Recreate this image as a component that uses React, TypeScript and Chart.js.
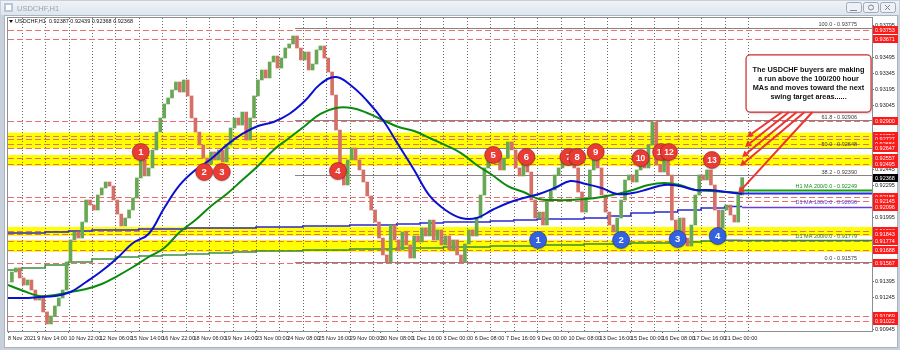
import React, { useEffect, useRef } from "react";
import { Chart, registerables } from "chart.js";

Chart.register(...registerables);

// ---------------- data ----------------
const SYMBOL = "USDCHF,H1";
const QUOTE = "0.92387 0.92439 0.92368 0.92368";

// closes sampled every 4 hourly bars (bar index = 4 * i)
const closes: number[] = [
  0.91388, 0.91482, 0.9152, 0.91426, 0.9136, 0.91407, 0.91313, 0.91219, 0.91257, 0.91107,
  0.90994, 0.91069, 0.91163, 0.91238, 0.91313, 0.91576, 0.91783, 0.91858, 0.91801, 0.91951,
  0.92158, 0.92111, 0.92064, 0.92205, 0.92271, 0.92327, 0.92289, 0.92158, 0.92026, 0.91914,
  0.91989, 0.92064, 0.92177, 0.92365, 0.92534, 0.92384, 0.92459, 0.92628, 0.92796, 0.92928,
  0.9306, 0.93116, 0.93191, 0.93266, 0.93172, 0.93285, 0.93135, 0.92928, 0.92796, 0.92674,
  0.92552, 0.92496, 0.92609, 0.92534, 0.92628, 0.92515, 0.92674, 0.92834, 0.92928, 0.92862,
  0.92984, 0.92721, 0.92928, 0.93135, 0.93285, 0.93379, 0.93304, 0.93454, 0.9351, 0.93397,
  0.93491, 0.93585, 0.93623, 0.93698, 0.93585, 0.93473, 0.93548, 0.93379, 0.93435, 0.93567,
  0.93604, 0.93491, 0.9336, 0.93144, 0.92815, 0.92487, 0.92299, 0.92534, 0.92646, 0.92534,
  0.9244, 0.92327, 0.92196, 0.92064, 0.91951, 0.91801, 0.91642, 0.91576, 0.91923, 0.91783,
  0.91689, 0.91858, 0.91736, 0.91613, 0.9182, 0.91764, 0.91895, 0.9182, 0.9197, 0.91783,
  0.91877, 0.91736, 0.9182, 0.91689, 0.91783, 0.91642, 0.91576, 0.91745, 0.91877, 0.9182,
  0.91989, 0.92205, 0.92459, 0.92628, 0.92515, 0.92581, 0.9244, 0.92552, 0.92703, 0.92628,
  0.92459, 0.92384, 0.92534, 0.92421, 0.92158, 0.91989, 0.92045, 0.91923, 0.92158, 0.92252,
  0.92393, 0.92459, 0.92581, 0.92487, 0.92628, 0.92459, 0.92233, 0.92045, 0.92177, 0.9244,
  0.92609, 0.92459, 0.92205, 0.92045, 0.91923, 0.91858, 0.91989, 0.92158, 0.92346, 0.92393,
  0.92327, 0.9244, 0.92534, 0.92459, 0.92674, 0.92891, 0.92487, 0.92421, 0.92534, 0.92393,
  0.9197, 0.91858, 0.91989, 0.91801, 0.91726, 0.91923, 0.92205, 0.92393, 0.92346, 0.9244,
  0.92299, 0.92064, 0.91895, 0.92064, 0.92111, 0.92017, 0.91951, 0.92205, 0.92368,
];

// hourly moving averages sampled every 16 bars
const ma100H1: number[] = [
  0.91238, 0.91238, 0.91247, 0.91257, 0.91294, 0.91388, 0.91491, 0.91613, 0.91754, 0.91839,
  0.92083, 0.92299, 0.9244, 0.92543, 0.92674, 0.92778, 0.92853, 0.92891, 0.92966, 0.93088,
  0.93247, 0.93313, 0.93228, 0.93088, 0.92909, 0.92674, 0.9244, 0.92196, 0.92064, 0.91989,
  0.91989, 0.92064, 0.9213, 0.92177, 0.92214, 0.92271, 0.92336, 0.92308, 0.92271, 0.92214,
  0.92224, 0.92261, 0.92299, 0.92289, 0.92252, 0.92252, 0.92233, 0.92214,
];
const ma200H1: number[] = [
  0.9136, 0.91304, 0.91257, 0.91266, 0.91294, 0.91322, 0.91369, 0.91444, 0.91529, 0.91623,
  0.91707, 0.91858, 0.9197, 0.92102, 0.92214, 0.92346, 0.92477, 0.92628, 0.9274, 0.92853,
  0.92966, 0.93022, 0.93022, 0.92975, 0.92909, 0.92843, 0.92806, 0.9274, 0.92674, 0.92599,
  0.92487, 0.92393, 0.92289, 0.92233, 0.92167, 0.92158, 0.92158, 0.92167, 0.92186, 0.92214,
  0.92252, 0.92299, 0.92318, 0.92299, 0.92252, 0.92242, 0.92233, 0.92224,
];

// daily moving averages, one value per day
const d1Ma100: number[] = [
  0.91848, 0.91848, 0.91858, 0.91867, 0.91876, 0.91876, 0.91886, 0.91886, 0.91895, 0.91895,
  0.91895, 0.91904, 0.91904, 0.91914, 0.91914, 0.91923, 0.91923, 0.91933, 0.91942, 0.91951,
  0.91951, 0.91961, 0.9197, 0.9198, 0.9198, 0.91989, 0.92008, 0.92036, 0.92045, 0.92064,
  0.92083, 0.92096,
];
const d1Ma200: number[] = [
  0.91501, 0.9152, 0.91548, 0.91576, 0.91604, 0.91623, 0.91632, 0.91642, 0.91651, 0.9166,
  0.9167, 0.91679, 0.91679, 0.91689, 0.91689, 0.91698, 0.91698, 0.91707, 0.91707, 0.91717,
  0.91717, 0.91726, 0.91726, 0.91736, 0.91736, 0.91745, 0.91745, 0.91754, 0.91754, 0.91764,
  0.91773, 0.91779,
];

const timeLabels = [
  "8 Nov 2021", "9 Nov 14:00", "10 Nov 22:00", "12 Nov 06:00", "15 Nov 14:00", "16 Nov 22:00",
  "18 Nov 06:00", "19 Nov 14:00", "23 Nov 00:00", "24 Nov 08:00", "25 Nov 16:00", "29 Nov 00:00",
  "30 Nov 08:00", "1 Dec 16:00", "3 Dec 00:00", "6 Dec 08:00", "7 Dec 16:00", "9 Dec 00:00",
  "10 Dec 08:00", "13 Dec 16:00", "15 Dec 00:00", "16 Dec 08:00", "17 Dec 16:00", "21 Dec 00:00",
];

const priceTicks = [0.93795, 0.93495, 0.93345, 0.93195, 0.93045, 0.92445, 0.92295, 0.91995, 0.91395, 0.91245, 0.90945];

const redLevels = [
  0.93753, 0.93671, 0.929, 0.92756, 0.92727, 0.92684, 0.92647, 0.92557, 0.92495,
  0.92185, 0.92145, 0.91863, 0.91843, 0.91774, 0.91688, 0.91567, 0.91069, 0.91022,
];
const yellowBands: [number, number][] = [
  [0.9279, 0.9264],
  [0.92581, 0.92477],
  [0.91905, 0.9182],
  [0.91783, 0.9167],
];

const fibNames = ["100.0", "61.8", "50.0", "38.2", "0.0"];
const fibPrices = [0.93775, 0.92906, 0.92648, 0.9239, 0.91575];

const lastPrice = 0.92368;
const h1Ma200Last = 0.92249;
const h1Ma100Last = 0.92222;
const d1Ma100Last = 0.92096;
const d1Ma200Last = 0.91779;

const redMarks = [
  { n: "1", bar: 136, p: 0.92609 },
  { n: "2", bar: 201, p: 0.92421 },
  { n: "3", bar: 219, p: 0.92421 },
  { n: "4", bar: 338, p: 0.9243 },
  { n: "5", bar: 497, p: 0.92581 },
  { n: "6", bar: 531, p: 0.92562 },
  { n: "7", bar: 574, p: 0.92562 },
  { n: "8", bar: 583, p: 0.92562 },
  { n: "9", bar: 602, p: 0.92609 },
  { n: "10", bar: 648, p: 0.92552 },
  { n: "11", bar: 669, p: 0.92609 },
  { n: "12", bar: 677, p: 0.92609 },
  { n: "13", bar: 721, p: 0.92534 },
];
const blueMarks = [
  { n: "1", bar: 543, p: 0.91783 },
  { n: "2", bar: 628, p: 0.91783 },
  { n: "3", bar: 686, p: 0.91792 },
  { n: "4", bar: 727, p: 0.9182 },
];

const noteLines = [
  "The USDCHF buyers are making",
  "a run above the 100/200 hour",
  "MAs and moves toward the next",
  "swing target areas......",
];
const noteBox = { bar0: 756, bar1: 884, top: 0.9352, bottom: 0.92984 };
const arrows = [
  { fromBar: 793, toBar: 757, toP: 0.9275 },
  { fromBar: 800, toBar: 755, toP: 0.92656 },
  { fromBar: 808, toBar: 752, toP: 0.92562 },
  { fromBar: 816, toBar: 750, toP: 0.92477 },
  { fromBar: 824, toBar: 748, toP: 0.92224 },
];

// bar structure of the hourly chart
const CANDLE_STEP = 4;
const MA_STEP = 16;
const DAY = 24;
const FIRST_MIDNIGHT = 14;
const LABEL_FIRST = 30;
const LABEL_STEP = 32;
const LAST_BAR = (closes.length - 1) * CANDLE_STEP;
const FIB_START = 294;
const X_MAX = 885;

const FONT = "'Liberation Sans', Arial, sans-serif";

// ---------------- helpers ----------------
function hline(ctx: CanvasRenderingContext2D, x0: number, x1: number, y: number) {
  const yy = Math.round(y) + 0.5;
  ctx.beginPath();
  ctx.moveTo(x0, yy);
  ctx.lineTo(x1, yy);
  ctx.stroke();
}

function rightLabel(ctx: CanvasRenderingContext2D, area: any, y: number, text: string, bg: string) {
  const x = area.right + 1;
  ctx.fillStyle = bg;
  ctx.fillRect(x, Math.round(y) - 4, 25, 8);
  ctx.fillStyle = "#ffffff";
  ctx.font = `5.5px ${FONT}`;
  ctx.textAlign = "left";
  ctx.textBaseline = "middle";
  ctx.fillText(text, x + 2, Math.round(y) + 0.5);
}

function mark(ctx: CanvasRenderingContext2D, x: number, y: number, t: string, fill: string, edge: string) {
  ctx.save();
  ctx.shadowColor = "rgba(0,0,0,0.25)";
  ctx.shadowBlur = 2;
  ctx.shadowOffsetY = 1;
  ctx.beginPath();
  ctx.arc(x, y, 8.5, 0, Math.PI * 2);
  ctx.fillStyle = fill;
  ctx.fill();
  ctx.restore();
  ctx.beginPath();
  ctx.arc(x, y, 8.5, 0, Math.PI * 2);
  ctx.strokeStyle = edge;
  ctx.lineWidth = 1;
  ctx.stroke();
  ctx.fillStyle = "#ffffff";
  ctx.font = `bold ${t.length > 1 ? 8.5 : 9.5}px ${FONT}`;
  ctx.textAlign = "center";
  ctx.textBaseline = "middle";
  ctx.fillText(t, x, y + 0.5);
}

const overlay = {
  id: "overlay",
  beforeDraw(chart: any) {
    const { ctx, width, height } = chart;
    ctx.save();
    ctx.fillStyle = "#c8d1db";
    ctx.fillRect(0, 0, width, height);
    const g = ctx.createLinearGradient(0, 0, 0, 16);
    g.addColorStop(0, "#f1f4f8");
    g.addColorStop(1, "#dde4ec");
    ctx.fillStyle = g;
    ctx.fillRect(1, 1, width - 2, 14);
    ctx.fillStyle = "#b7c6d8";
    ctx.fillRect(4, 3, 9, 9);
    ctx.fillStyle = "#ffffff";
    ctx.fillRect(6, 5, 5, 5);
    ctx.fillStyle = "#9aa4ae";
    ctx.font = `7.5px ${FONT}`;
    ctx.textBaseline = "middle";
    ctx.textAlign = "left";
    ctx.fillText(SYMBOL, 17, 8.5);
    for (let i = 0; i < 3; i++) {
      const bx = 846 + i * 17;
      ctx.fillStyle = "#eef2f6";
      ctx.strokeStyle = "#9eabb9";
      ctx.lineWidth = 1;
      ctx.beginPath();
      ctx.roundRect(bx + 0.5, 2.5, 15, 10, 2);
      ctx.fill();
      ctx.stroke();
    }
    ctx.strokeStyle = "#7d8894";
    ctx.beginPath();
    ctx.moveTo(850, 10.5); ctx.lineTo(857, 10.5);
    ctx.stroke();
    ctx.beginPath();
    ctx.arc(871, 7.5, 2.5, 0, Math.PI * 2);
    ctx.stroke();
    ctx.beginPath();
    ctx.moveTo(885, 5); ctx.lineTo(890, 10); ctx.moveTo(890, 5); ctx.lineTo(885, 10);
    ctx.stroke();
    ctx.fillStyle = "#ffffff";
    ctx.fillRect(5, 16, width - 8, 331);
    ctx.strokeStyle = "#a9b4c0";
    ctx.strokeRect(4.5, 15.5, width - 7, 332);
    ctx.restore();
  },
  beforeDatasetsDraw(chart: any) {
    const { ctx, chartArea: a, scales } = chart;
    const xs = scales.x, ys = scales.y;
    ctx.save();
    ctx.beginPath();
    ctx.rect(a.left, a.top, a.right - a.left, a.bottom - a.top);
    ctx.clip();
    ctx.fillStyle = "#ffff00";
    for (const [hi, lo] of yellowBands) {
      const y1 = ys.getPixelForValue(hi);
      const y2 = ys.getPixelForValue(lo);
      ctx.fillRect(a.left, y1, a.right - a.left, y2 - y1);
    }
    ctx.strokeStyle = "rgba(80,80,80,0.85)";
    ctx.lineWidth = 1;
    ctx.setLineDash([1, 2]);
    for (let b = FIRST_MIDNIGHT; b <= LAST_BAR + 8; b += DAY) {
      const x = Math.round(xs.getPixelForValue(b)) + 0.5;
      ctx.beginPath();
      ctx.moveTo(x, a.top);
      ctx.lineTo(x, a.bottom);
      ctx.stroke();
    }
    ctx.setLineDash([6, 3]);
    ctx.strokeStyle = "rgb(230,112,112)";
    for (const p of redLevels) hline(ctx, a.left, a.right, ys.getPixelForValue(p));
    ctx.setLineDash([]);
    ctx.strokeStyle = "#8d8080";
    const fx = xs.getPixelForValue(FIB_START);
    for (const p of fibPrices) hline(ctx, fx, a.right, ys.getPixelForValue(p));
    ctx.restore();
  },
  afterDatasetsDraw(chart: any) {
    const { ctx, chartArea: a, scales } = chart;
    const xs = scales.x, ys = scales.y;
    const xe = xs.getPixelForValue(LAST_BAR);
    ctx.save();
    ctx.beginPath();
    ctx.rect(a.left, a.top, a.right - a.left, a.bottom - a.top);
    ctx.clip();
    // projections of the moving averages
    ctx.lineWidth = 1.5;
    ctx.strokeStyle = "#6a3fd0";
    hline(ctx, xe, a.right, ys.getPixelForValue(d1Ma100Last));
    ctx.strokeStyle = "#2f8f2f";
    hline(ctx, xe, a.right, ys.getPixelForValue(d1Ma200Last));
    ctx.lineWidth = 2;
    ctx.strokeStyle = "#11a011";
    hline(ctx, xe, a.right, ys.getPixelForValue(h1Ma200Last));
    ctx.strokeStyle = "#1f2fe0";
    hline(ctx, xe, a.right, ys.getPixelForValue(h1Ma100Last));

    // texts on lines
    ctx.font = `5.5px ${FONT}`;
    ctx.textAlign = "right";
    ctx.textBaseline = "bottom";
    const tx = a.right - 15;
    ctx.fillStyle = "#3a3a3a";
    fibNames.forEach((n, i) => {
      ctx.fillText(`${n} - ${fibPrices[i].toFixed(5)}`, tx, ys.getPixelForValue(fibPrices[i]) - 0.5);
    });
    ctx.fillStyle = "#1a8a1a";
    ctx.fillText(`H1 MA 200/0.0 - ${h1Ma200Last.toFixed(5)}`, tx, ys.getPixelForValue(h1Ma200Last) - 1);
    ctx.fillStyle = "#5a3cc8";
    ctx.fillText(`D1 MA 100/0.0 - ${d1Ma100Last.toFixed(5)}`, tx, ys.getPixelForValue(d1Ma100Last) - 1);
    ctx.fillStyle = "#2a7a2a";
    ctx.fillText(`D1 MA 200/0.0 - ${d1Ma200Last.toFixed(5)}`, tx, ys.getPixelForValue(d1Ma200Last) - 1);

    // numbered marks
    for (const m of redMarks) mark(ctx, xs.getPixelForValue(m.bar), ys.getPixelForValue(m.p), m.n, "rgb(232,60,52)", "rgba(150,30,30,0.6)");
    for (const m of blueMarks) mark(ctx, xs.getPixelForValue(m.bar), ys.getPixelForValue(m.p), m.n, "rgb(52,98,222)", "rgba(30,50,140,0.6)");

    // note box
    const bx0 = xs.getPixelForValue(noteBox.bar0);
    const bx1 = xs.getPixelForValue(noteBox.bar1);
    const by0 = ys.getPixelForValue(noteBox.top);
    const by1 = ys.getPixelForValue(noteBox.bottom);
    ctx.save();
    ctx.shadowColor = "rgba(0,0,0,0.3)";
    ctx.shadowBlur = 3;
    ctx.shadowOffsetX = 1;
    ctx.shadowOffsetY = 1;
    ctx.beginPath();
    ctx.roundRect(bx0, by0, bx1 - bx0, by1 - by0, 4);
    ctx.fillStyle = "#ffffff";
    ctx.fill();
    ctx.restore();
    ctx.beginPath();
    ctx.roundRect(bx0, by0, bx1 - bx0, by1 - by0, 4);
    ctx.strokeStyle = "rgb(205,45,45)";
    ctx.lineWidth = 1.2;
    ctx.stroke();
    ctx.fillStyle = "#111111";
    ctx.font = `bold 7.3px ${FONT}`;
    ctx.textAlign = "center";
    ctx.textBaseline = "middle";
    const cx = (bx0 + bx1) / 2;
    const cy = (by0 + by1) / 2;
    noteLines.forEach((l, i) => ctx.fillText(l, cx, cy + (i - 1.5) * 9));

    // arrows
    ctx.strokeStyle = "rgb(236,52,52)";
    ctx.fillStyle = "rgb(236,52,52)";
    ctx.lineWidth = 2;
    for (const ar of arrows) {
      const x0 = xs.getPixelForValue(ar.fromBar);
      const y0 = by1;
      const x1 = xs.getPixelForValue(ar.toBar);
      const y1 = ys.getPixelForValue(ar.toP);
      const ang = Math.atan2(y1 - y0, x1 - x0);
      const hx = x1 - Math.cos(ang) * 6;
      const hy = y1 - Math.sin(ang) * 6;
      ctx.beginPath();
      ctx.moveTo(x0, y0);
      ctx.lineTo(hx, hy);
      ctx.stroke();
      ctx.beginPath();
      ctx.moveTo(x1, y1);
      ctx.lineTo(hx + Math.cos(ang + Math.PI / 2) * 3.5, hy + Math.sin(ang + Math.PI / 2) * 3.5);
      ctx.lineTo(hx + Math.cos(ang - Math.PI / 2) * 3.5, hy + Math.sin(ang - Math.PI / 2) * 3.5);
      ctx.closePath();
      ctx.fill();
    }

    // info line
    ctx.fillStyle = "#111111";
    ctx.beginPath();
    ctx.moveTo(9, 20);
    ctx.lineTo(13, 20);
    ctx.lineTo(11, 23);
    ctx.closePath();
    ctx.fill();
    ctx.font = `5.5px ${FONT}`;
    ctx.textAlign = "left";
    ctx.textBaseline = "middle";
    ctx.fillText(`${SYMBOL}  ${QUOTE}`, 15, 21.5);
    ctx.restore();
  },
  afterDraw(chart: any) {
    const { ctx, chartArea: a, scales } = chart;
    const ys = scales.y;
    ctx.save();
    ctx.strokeStyle = "#8b8f94";
    ctx.lineWidth = 1;
    ctx.strokeRect(a.left - 0.5, a.top - 0.5, a.right - a.left + 1, a.bottom - a.top + 1);
    for (const p of redLevels) rightLabel(ctx, a, ys.getPixelForValue(p), p.toFixed(5), "#ff1a1a");
    rightLabel(ctx, a, ys.getPixelForValue(d1Ma100Last), d1Ma100Last.toFixed(5), "#ff1a1a");
    rightLabel(ctx, a, ys.getPixelForValue(lastPrice), lastPrice.toFixed(5), "#000000");
    ctx.restore();
  },
};

export default function App() {
  const ref = useRef<HTMLCanvasElement>(null);
  useEffect(() => {
    const canvas = ref.current;
    if (!canvas) return;
    const candleData = closes.map((c, i) => ({ x: i * CANDLE_STEP, y: [i === 0 ? c : closes[i - 1], c] }));
    const candleColors = closes.map((c, i) => (i > 0 && c < closes[i - 1] ? "rgb(212,112,102)" : "rgb(104,168,84)"));
    const dayBar = (d: number) => (d === 0 ? 0 : FIRST_MIDNIGHT + DAY * (d - 1));
    const d100 = d1Ma100.map((v, d) => ({ x: dayBar(d), y: v })).concat([{ x: LAST_BAR, y: d1Ma100[d1Ma100.length - 1] }]);
    const d200 = d1Ma200.map((v, d) => ({ x: dayBar(d), y: v })).concat([{ x: LAST_BAR, y: d1Ma200[d1Ma200.length - 1] }]);

    const chart = new Chart(canvas, {
      type: "line",
      data: {
        datasets: [
          {
            type: "line",
            label: "H1 MA 100",
            data: ma100H1.map((v, k) => ({ x: k * MA_STEP, y: v })),
            borderColor: "#0a10d0",
            borderWidth: 2,
            pointRadius: 0,
            tension: 0.4,
          },
          {
            type: "line",
            label: "H1 MA 200",
            data: ma200H1.map((v, k) => ({ x: k * MA_STEP, y: v })),
            borderColor: "#0c8a0c",
            borderWidth: 2,
            pointRadius: 0,
            tension: 0.4,
          },
          {
            type: "bar",
            label: SYMBOL,
            data: candleData as any,
            backgroundColor: candleColors,
            borderWidth: 0,
            barThickness: 3,
          },
          {
            type: "line",
            label: "D1 MA 100",
            data: d100,
            borderColor: "#2a2ad0",
            borderWidth: 1.5,
            pointRadius: 0,
            stepped: true,
          },
          {
            type: "line",
            label: "D1 MA 200",
            data: d200,
            borderColor: "#3a8f3a",
            borderWidth: 1.5,
            pointRadius: 0,
            stepped: true,
          },
        ],
      },
      options: {
        responsive: false,
        devicePixelRatio: 1,
        animation: false,
        events: [],
        layout: { padding: { left: 8, top: 18, right: 0, bottom: 0 } },
        plugins: { legend: { display: false }, tooltip: { enabled: false } },
        scales: {
          x: {
            type: "linear",
            min: 0,
            max: X_MAX,
            offset: false,
            afterBuildTicks: (s: any) => {
              s.ticks = timeLabels.map((_, i) => ({ value: i === 0 ? 0 : LABEL_FIRST + LABEL_STEP * (i - 1) }));
            },
            afterFit: (s: any) => {
              s.height = 19;
            },
            ticks: {
              autoSkip: false,
              maxRotation: 0,
              minRotation: 0,
              align: "start",
              padding: 2,
              color: "#1a1a1a",
              font: { size: 5.5, family: FONT },
              callback: (_v: any, i: number) => timeLabels[i],
            },
            grid: { display: true, drawOnChartArea: false, drawTicks: true, tickLength: 2, color: "#666", offset: false },
            border: { display: false },
          },
          y: {
            type: "linear",
            position: "right",
            min: 0.90928,
            max: 0.93867,
            afterBuildTicks: (s: any) => {
              s.ticks = priceTicks.map((v) => ({ value: v }));
            },
            afterFit: (s: any) => {
              s.width = 28;
            },
            ticks: {
              padding: 1,
              color: "#1a1a1a",
              font: { size: 5.5, family: FONT },
              callback: (v: any) => Number(v).toFixed(5),
            },
            grid: { display: true, drawOnChartArea: false, drawTicks: true, tickLength: 2, color: "#666" },
            border: { display: false },
          },
        },
      } as any,
      plugins: [overlay],
    });
    return () => chart.destroy();
  }, []);

  return (
    <div style={{ position: "fixed", left: 0, top: 0, width: 900, height: 350 }}>
      <canvas ref={ref} width={900} height={350} style={{ display: "block", width: 900, height: 350 }} />
    </div>
  );
}
